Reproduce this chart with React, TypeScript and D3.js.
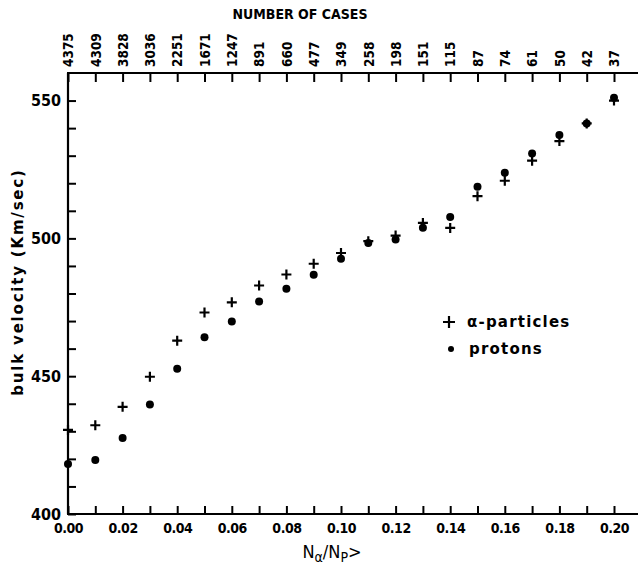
import React, { useEffect, useRef } from "react";
import { select, scaleLinear, axisLeft, axisBottom, axisTop, range, format } from "d3";

const ratio = [0, 0.01, 0.02, 0.03, 0.04, 0.05, 0.06, 0.07, 0.08, 0.09, 0.1, 0.11, 0.12, 0.13, 0.14, 0.15, 0.16, 0.17, 0.18, 0.19, 0.2];
const cases = ["4375", "4309", "3828", "3036", "2251", "1671", "1247", "891", "660", "477", "349", "258", "198", "151", "115", "87", "74", "61", "50", "42", "37"];
const alphaVel = [430.5, 432.2, 438.9, 449.8, 462.9, 473.1, 476.8, 482.9, 486.9, 490.8, 494.7, 499, 501, 505.6, 503.8, 515.3, 520.9, 528.2, 535.3, 541.7, 550];
const protonVel = [418.1, 419.6, 427.6, 439.7, 452.7, 464.1, 469.8, 477.1, 481.7, 486.8, 492.6, 498.3, 499.6, 503.9, 507.8, 518.7, 523.8, 530.8, 537.5, 541.7, 551];
const yTicks = [400, 450, 500, 550];

const W = 638;
const H = 571;
const FONT = "'DejaVu Sans Condensed', 'DejaVu Sans', sans-serif";

export default function App() {
  const ref = useRef(null);

  useEffect(() => {
    const svg = select(ref.current);
    svg.selectAll("*").remove();

    const left = 68, right = 614, top = 73, bottom = 514;
    const x = scaleLinear().domain([0, 0.2]).range([left, right]);
    const y = scaleLinear().domain([400, 560]).range([bottom, top]);

    const g = svg.append("g").attr("font-family", FONT).attr("font-weight", "bold");

    // frame lines (left, top, bottom run to page edge)
    g.append("line").attr("x1", left).attr("x2", left).attr("y1", top).attr("y2", bottom).attr("stroke", "#000").attr("stroke-width", 2.2);
    g.append("line").attr("x1", left - 1).attr("x2", W).attr("y1", top).attr("y2", top).attr("stroke", "#000").attr("stroke-width", 2.2);
    g.append("line").attr("x1", left - 1).attr("x2", W).attr("y1", bottom).attr("y2", bottom).attr("stroke", "#000").attr("stroke-width", 2.2);

    // bottom axis
    const xAxisG = g.append("g").attr("transform", `translate(0,${bottom})`)
      .call(axisBottom(x).tickValues(ratio).tickSize(-8).tickPadding(6).tickFormat((d, i) => (i % 2 === 0 ? format(".2f")(d) : "")));
    xAxisG.select(".domain").remove();
    xAxisG.selectAll("line").attr("stroke", "#000").attr("stroke-width", 2);
    xAxisG.selectAll("text").attr("font-size", 14).attr("font-family", FONT).attr("fill", "#000").attr("dy", "0.95em").attr("letter-spacing", -0.5);

    // top axis (number of cases)
    const topG = g.append("g").attr("transform", `translate(0,${top})`)
      .call(axisTop(x).tickValues(ratio).tickSize(-9).tickFormat((d, i) => cases[i]));
    topG.select(".domain").remove();
    topG.selectAll("line").attr("stroke", "#000").attr("stroke-width", 2);
    topG.selectAll("text")
      .attr("font-size", 13.5)
      .attr("font-family", FONT)
      .attr("fill", "#000")
      .attr("transform", "rotate(-90)")
      .attr("x", 6)
      .attr("y", 0)
      .attr("dy", "0.35em")
      .attr("text-anchor", "start");

    // left axis
    const yAxisG = g.append("g").attr("transform", `translate(${left},0)`)
      .call(axisLeft(y).tickValues(range(400, 560, 10)).tickSize(-8).tickPadding(7).tickFormat((d) => (yTicks.includes(d) ? String(d) : "")));
    yAxisG.select(".domain").remove();
    yAxisG.selectAll("line").attr("stroke", "#000").attr("stroke-width", 2);
    yAxisG.selectAll("text").attr("font-size", 16).attr("font-family", FONT).attr("fill", "#000");

    // titles
    g.append("text").attr("x", 300).attr("y", 19).attr("text-anchor", "middle").attr("font-size", 14).text("NUMBER OF CASES");
    g.append("text")
      .attr("transform", `translate(23,${282}) rotate(-90)`)
      .attr("text-anchor", "middle")
      .attr("font-size", 15)
      .attr("letter-spacing", 1.8)
      .attr("font-family", "'DejaVu Sans', sans-serif")
      .style("font-weight", "600")
      .text("bulk  velocity  (Km/sec)");
    const xt = g.append("text").attr("x", 332).attr("y", 558).attr("text-anchor", "middle").attr("font-size", 18).attr("font-weight", "normal");
    xt.append("tspan").text("N");
    xt.append("tspan").attr("font-size", 14).attr("dy", 4).text("α");
    xt.append("tspan").attr("dy", -4).text("/N");
    xt.append("tspan").attr("font-size", 14).attr("dy", 4).text("P");
    xt.append("tspan").attr("dy", -4).text(">");

    // protons
    g.append("g").selectAll("circle").data(protonVel).enter().append("circle")
      .attr("cx", (d, i) => x(ratio[i]))
      .attr("cy", (d) => y(d))
      .attr("r", 4)
      .attr("fill", "#000");

    // alpha particles
    const cross = (sel, s) => sel.append("path").attr("d", `M${-s},0H${s}M0,${-s}V${s}`).attr("stroke", "#000").attr("stroke-width", 2.2).attr("fill", "none");
    const ag = g.append("g").selectAll("g").data(alphaVel).enter().append("g")
      .attr("transform", (d, i) => `translate(${x(ratio[i])},${y(d)})`);
    cross(ag, 5);

    // legend
    const lg = g.append("g").attr("transform", "translate(449,322)");
    cross(lg, 6);
    lg.append("text").attr("x", 18).attr("y", 5).attr("font-size", 15).attr("letter-spacing", 1.2).attr("font-weight", "600").attr("font-family", "'DejaVu Sans', sans-serif").text("α-particles");
    lg.append("circle").attr("cx", 2).attr("cy", 27).attr("r", 3).attr("fill", "#000");
    lg.append("text").attr("x", 20).attr("y", 32).attr("font-size", 15).attr("letter-spacing", 1.2).attr("font-weight", "600").attr("font-family", "'DejaVu Sans', sans-serif").text("protons");
  }, []);

  return (
    <svg
      ref={ref}
      width={W}
      height={H}
      style={{ position: "absolute", left: 0, top: 0, background: "#fff" }}
    />
  );
}
